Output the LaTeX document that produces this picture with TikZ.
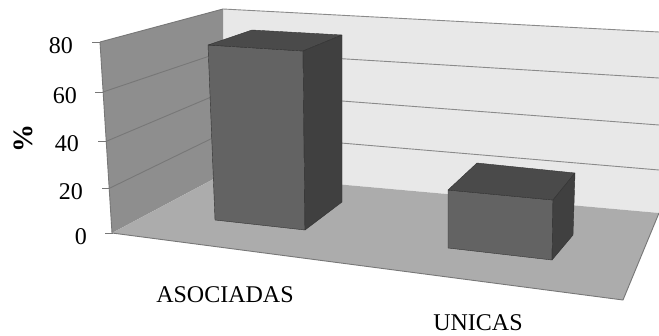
\documentclass[tikz,border=0pt]{standalone}
\usepackage{fontspec}
\setmainfont{Liberation Serif}
\usepackage{tikz}
\definecolor{backwall}{HTML}{E8E8E8}
\definecolor{leftwall}{HTML}{8E8E8E}
\definecolor{floorc}{HTML}{ACACAC}
\definecolor{barfront}{HTML}{636363}
\definecolor{bartop}{HTML}{4A4A4A}
\definecolor{barside}{HTML}{404040}
\definecolor{gridc}{HTML}{8A8A8A}
\definecolor{gridl}{HTML}{777777}
\tikzset{
  lbl/.style={font=\fontsize{24}{28}\selectfont, inner sep=0pt},
  ylbl/.style={lbl, anchor=east},
  gridback/.style={draw=gridc, line width=0.9pt},
  gridleft/.style={draw=gridl, line width=0.9pt},
  tickline/.style={draw=gridl, line width=1pt},
  face/.style={draw=barside!80!black, line width=0.4pt, line join=round},
}
\begin{document}
\begin{tikzpicture}[x=1pt,y=-1pt]
\useasboundingbox (0,0) rectangle (659,335);
\fill[white] (0,0) rectangle (659,335);
% back wall
\fill[backwall] (223,9) -- (659,32) -- (659,213) -- (223,174) -- cycle;
\draw[gridback] (223,9) -- (659,32);
\draw[gridback] (223,51.5) -- (659,78);
\draw[gridback] (223,92) -- (659,125);
\draw[gridback] (223,133) -- (659,170);
% left wall
\fill[leftwall] (100,42) -- (223,9) -- (223,174) -- (112,233) -- cycle;
\draw[gridleft] (100,42) -- (223,9);
\draw[gridleft] (103,92) -- (223,51.5);
\draw[gridleft] (107,141) -- (223,92);
\draw[gridleft] (110,188) -- (223,133);
\draw[gridleft] (100,42) -- (112,233);
% floor
\fill[floorc] (112,233) -- (223,174) -- (659,213) -- (623,300) -- cycle;
\draw[gridleft] (112,233) -- (623,300) -- (659,213);
% bar 1
\filldraw[face, fill=barfront] (208,45) -- (303,51) -- (305,230) -- (215,220) -- cycle;
\filldraw[face, fill=bartop] (208,45) -- (252,30) -- (342,35) -- (303,51) -- cycle;
\filldraw[face, fill=barside] (303,51) -- (342,35) -- (342,202) -- (305,230) -- cycle;
% bar 2
\filldraw[face, fill=barfront] (448,190) -- (553,200) -- (552,260) -- (448,248) -- cycle;
\filldraw[face, fill=bartop] (448,190) -- (477,163) -- (575,173) -- (553,200) -- cycle;
\filldraw[face, fill=barside] (553,200) -- (575,173) -- (573,235) -- (552,260) -- cycle;
% ticks
\draw[tickline] (92,42) -- (100,42);
\draw[tickline] (95,92) -- (103,92);
\draw[tickline] (98,141) -- (107,141);
\draw[tickline] (102,188) -- (110,188);
\draw[tickline] (105,233) -- (113,233);
% labels
\node[ylbl] (y80) at (73,46) {80};
\node[ylbl] (y60) at (77,96) {60};
\node[ylbl] (y40) at (79,144) {40};
\node[ylbl] (y20) at (83,192) {20};
\node[ylbl] (y0) at (87,237) {0};
\node[lbl, rotate=90, font=\fontsize{28}{32}\selectfont\bfseries] (pct) at (23,138) {\%};
\node[lbl, anchor=base] (c1) at (225,302) {ASOCIADAS};
\node[lbl, anchor=base] (c2) at (478,330) {UNICAS};
\end{tikzpicture}
\end{document}
